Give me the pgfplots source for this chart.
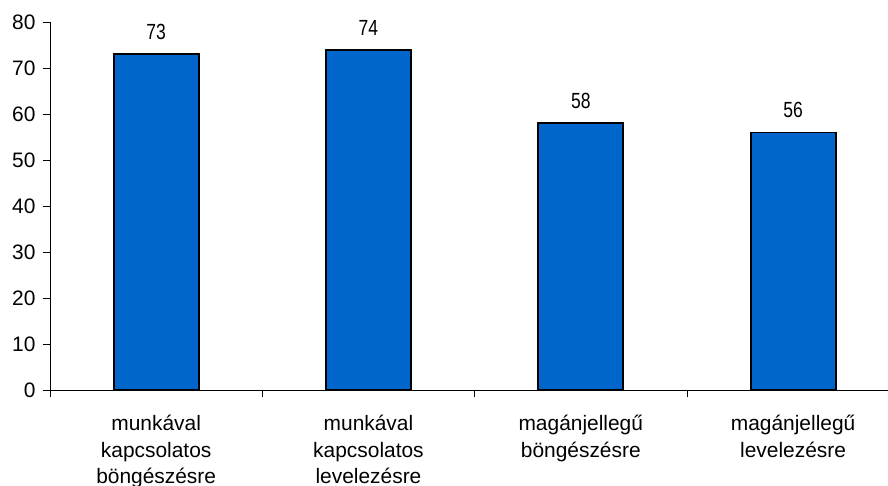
\documentclass[border=0pt]{standalone}
\usepackage{pgfplots}
\pgfplotsset{compat=1.18}
\usepackage{fontspec}
\setmainfont{Liberation Sans}
\definecolor{barblue}{RGB}{0,102,204}
\begin{document}
\begin{tikzpicture}
\begin{axis}[name=ax, scale only axis, width=838bp, height=368bp,
  xmin=-0.5, xmax=3.447, ymin=0, ymax=80,
  enlargelimits=false,
  axis x line=bottom, axis y line=left,
  axis line style={-, line width=0.8bp, black},
  ytick={0,10,...,80},
  xtick={0,1,2,3},
  xticklabels={munkával\\kapcsolatos\\böngészésre, munkával\\kapcsolatos\\levelezésre, magánjellegű\\böngészésre, magánjellegű\\levelezésre},
  minor xtick={-0.5,0.5,1.5,2.5},
  major x tick style={draw=none},
  tick align=outside,
  major tick length=7bp, minor tick length=7bp,
  tick style={line width=0.8bp, black},
  /pgf/number format/assume math mode=true,
  ticklabel style={font=\fontsize{21}{26.5}\selectfont},
  xticklabel style={align=center, yshift=-15bp},
  yticklabel style={xshift=-4bp},
  ybar, bar width=85bp,
  nodes near coords,
  every node near coord/.append style={font=\fontsize{22}{26}\selectfont, yshift=10bp},
  nodes near coords={\scalebox{0.8}[1]{\pgfmathprintnumber{\pgfplotspointmeta}}},
]
\addplot[fill=barblue, draw=black, line width=1.8bp] coordinates {(0,73) (1,74) (2,58) (3,56)};
\end{axis}
\pgfresetboundingbox
\path ([shift={(-50bp,-96bp)}]ax.south west) rectangle ([shift={(838bp,390bp)}]ax.south west);
\end{tikzpicture}
\end{document}
